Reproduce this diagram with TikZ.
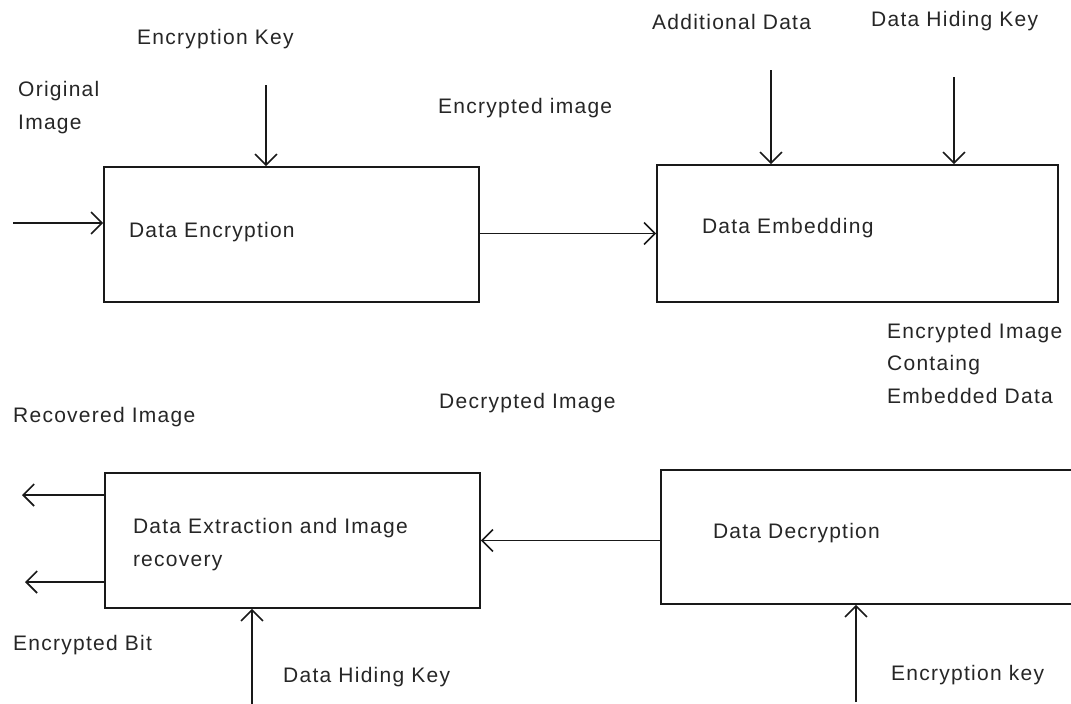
\documentclass[tikz,border=0pt]{standalone}
\usepackage{fontspec}
\setmainfont{Liberation Sans}[LetterSpace=6]
\usetikzlibrary{positioning,arrows.meta}

\begin{document}
\begin{tikzpicture}[x=1pt,y=-1pt]

\tikzstyle{procbox}=[draw=black!90, line width=1.6pt, inner xsep=0pt, inner ysep=0pt, align=left, text height=15pt, font=\fontsize{21}{33}\selectfont, text=black!85]
\tikzstyle{texto}=[anchor=base west, inner sep=0pt, align=left, font=\fontsize{21}{32.5}\selectfont, text=black!85]
\tikzstyle{flow}=[draw=black!90, line width=1.6pt, -{Straight Barb[length=11pt,width=22pt]}]

\newcommand{\procbox}[6]{node (p#1) [procbox, minimum width=#2, minimum height=#3,
  text width=#4, text depth=#5] {#6}}

\path[use as bounding box, fill=white] (0,0) rectangle (1071,704);

% the four stages
\path (291.5,234.5) \procbox{enc}{375pt}{135pt}{325pt}{10pt}{Data Encryption};
\path (857.5,233.5) \procbox{emb}{401pt}{137pt}{311pt}{16pt}{Data Embedding};
\path (292.5,540.5) \procbox{ext}{375pt}{135pt}{319pt}{30pt}{Data Extraction and Image\\recovery};
\path (880.5,537) \procbox{dec}{439pt}{134pt}{335pt}{13pt}{Data Decryption};

% labels (multi-line ones sit on their last line)
\node[texto] (lorig) at (18,129) {Original\\Image};
\node[texto] (lkey) at (137,44) {Encryption Key};
\node[texto] (lenc) at (438,113) {Encrypted image};
\node[texto] (ladd) at (652,29) {Additional Data};
\node[texto] (lhide) at (871,27) {Data Hiding Key};
\node[texto] (lcont) at (887,403) {Encrypted Image\\Containg\\Embedded Data};
\node[texto] (ldec) at (439,408) {Decrypted Image};
\node[texto] (lrec) at (13,422) {Recovered Image};
\node[texto] (lbit) at (13,650) {Encrypted Bit};
\node[texto] (lhidetwo) at (283,682) {Data Hiding Key};
\node[texto] (lkeytwo) at (891,680) {Encryption key};

% connectors
\coordinate (cin) at (13,223);
\coordinate (ckey) at (266,85);
\coordinate (cadd) at (771,70);
\coordinate (chide) at (954,77);
\coordinate (crec) at (22,495);
\coordinate (cbit) at (25,582);
\coordinate (chidetwo) at (252,704);
\coordinate (ckeytwo) at (856,702);

\draw[flow] (cin) -- (cin -| penc.west);
\draw[flow] (ckey) -- (ckey |- penc.north);
\draw[flow] (penc.east |- pemb.west) -- (pemb.west);
\draw[flow] (cadd) -- (cadd |- pemb.north);
\draw[flow] (chide) -- (chide |- pemb.north);
\draw[flow] (pdec.west |- pext.east) -- (pext.east);
\draw[flow] (crec -| pext.west) -- (crec);
\draw[flow] (cbit -| pext.west) -- (cbit);
\draw[flow] (chidetwo) -- (chidetwo |- pext.south);
\draw[flow] (ckeytwo) -- (ckeytwo |- pdec.south);

\end{tikzpicture}
\end{document}
